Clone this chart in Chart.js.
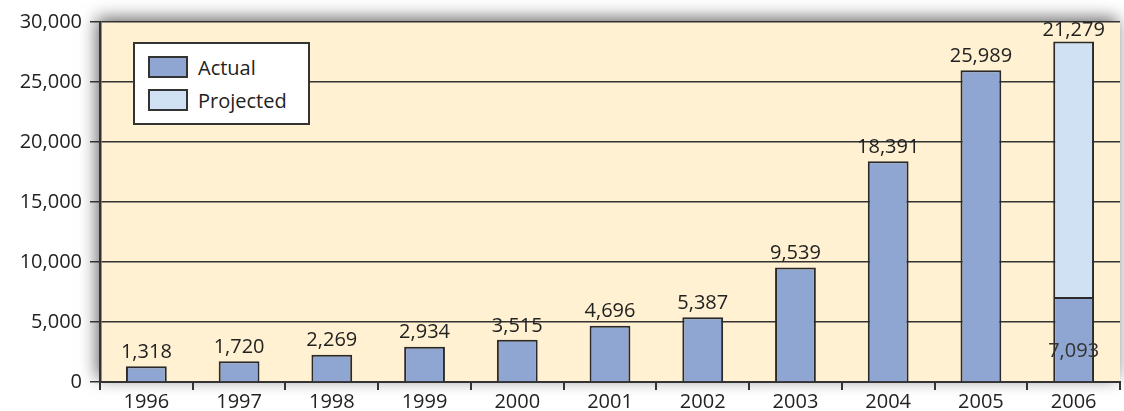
<!DOCTYPE html>
<html>
<head>
<meta charset="utf-8">
<script src="https://cdn.jsdelivr.net/npm/chart.js@4.4.1/dist/chart.umd.min.js"></script>
<style>
  html, body { margin:0; padding:0; background:#fff; }
  #wrap { position:relative; width:1124px; height:411px; }
  #legend { position:absolute; left:133px; top:42px; width:173px; height:79px; background:#fff; border:2px solid #333; font-family:'Open Sans', sans-serif; font-size:20px; color:#222; }
  .item { position:absolute; left:13px; height:22px; display:flex; align-items:center; }
  .sw { width:36px; height:18px; border:2px solid #333; margin-right:10px; }
</style>
</head>
<body>
<div id="wrap">
  <canvas id="c" width="1124" height="411"></canvas>
  <div id="legend">
    <div class="item" style="top:12px"><div class="sw" style="background:#8EA6D1"></div>Actual</div>
    <div class="item" style="top:45px"><div class="sw" style="background:#CFE1F3"></div>Projected</div>
  </div>
</div>
<script>
const categories = ['1996','1997','1998','1999','2000','2001','2002','2003','2004','2005','2006'];
const actualValues = [1318, 1720, 2269, 2934, 3515, 4696, 5387, 9539, 18391, 25989, 7093];
const projectedValues = [null, null, null, null, null, null, null, null, null, null, 21279];
const yTicks = [0, 5000, 10000, 15000, 20000, 25000, 30000];

const fmt = v => v.toLocaleString('en-US');
const FONT = "'Open Sans', sans-serif";

const plotBg = {
  id: 'plotBg',
  beforeDraw(chart) {
    const {ctx, chartArea: a} = chart;
    ctx.save();
    ctx.shadowColor = 'rgba(0,0,0,0.6)';
    ctx.shadowBlur = 16;
    ctx.shadowOffsetX = -3;
    ctx.shadowOffsetY = -4;
    ctx.fillStyle = '#FFF1D1';
    ctx.fillRect(a.left, a.top, a.right - a.left, a.bottom - a.top);
    ctx.restore();
  }
};

const valueLabels = {
  id: 'valueLabels',
  afterDatasetsDraw(chart) {
    const {ctx} = chart;
    ctx.save();
    ctx.font = "20px " + FONT;
    ctx.fillStyle = '#222';
    ctx.textAlign = 'center';
    const m0 = chart.getDatasetMeta(0);
    const m1 = chart.getDatasetMeta(1);
    m0.data.forEach((bar, i) => {
      const v = actualValues[i];
      if (v == null) return;
      if (projectedValues[i] != null) {
        ctx.fillStyle = '#333';
        ctx.textBaseline = 'middle';
        ctx.fillText(fmt(v), bar.x, bar.base - 30);
        ctx.fillStyle = '#222';
      } else {
        ctx.textBaseline = 'bottom';
        ctx.fillText(fmt(v), bar.x, bar.y - 4);
      }
    });
    m1.data.forEach((bar, i) => {
      const v = projectedValues[i];
      if (v == null) return;
      ctx.textBaseline = 'bottom';
      ctx.fillText(fmt(v), bar.x, bar.y - 1);
    });
    ctx.restore();
  }
};

new Chart(document.getElementById('c'), {
  type: 'bar',
  data: {
    labels: categories,
    datasets: [
      { label: 'Actual', data: actualValues, backgroundColor: '#8EA6D1', borderColor: '#2a2a2a', borderWidth: 2, borderSkipped: 'bottom', categoryPercentage: 1, barPercentage: 0.44 },
      { label: 'Projected', data: projectedValues, backgroundColor: '#CFE1F3', borderColor: '#2a2a2a', borderWidth: 2, borderSkipped: 'bottom', categoryPercentage: 1, barPercentage: 0.44 }
    ]
  },
  options: {
    responsive: false,
    animation: false,
    layout: { padding: { top: 22, right: 4, left: 0, bottom: 0 } },
    plugins: { legend: { display: false }, tooltip: { enabled: false } },
    scales: {
      x: {
        stacked: true,
        offset: true,
        grid: { offset: true, drawOnChartArea: false, drawTicks: true, tickLength: 8, color: '#333', lineWidth: 2 },
        border: { display: true, color: '#333', width: 2 },
        ticks: { color: '#222', font: { family: FONT, size: 20 }, padding: 0 },
        afterFit(s) { s.height = 29; }
      },
      y: {
        stacked: true,
        min: 0, max: 30000,
        afterBuildTicks(s) { s.ticks = yTicks.map(v => ({ value: v })); },
        grid: { color: '#333', lineWidth: 1.5, tickLength: 10, drawTicks: true },
        border: { display: true, color: '#333', width: 2.5 },
        ticks: { color: '#222', font: { family: FONT, size: 20 }, padding: 8, callback: v => fmt(v) },
        afterFit(s) { s.width = 100; }
      }
    }
  },
  plugins: [plotBg, valueLabels]
});
</script>
</body>
</html>
